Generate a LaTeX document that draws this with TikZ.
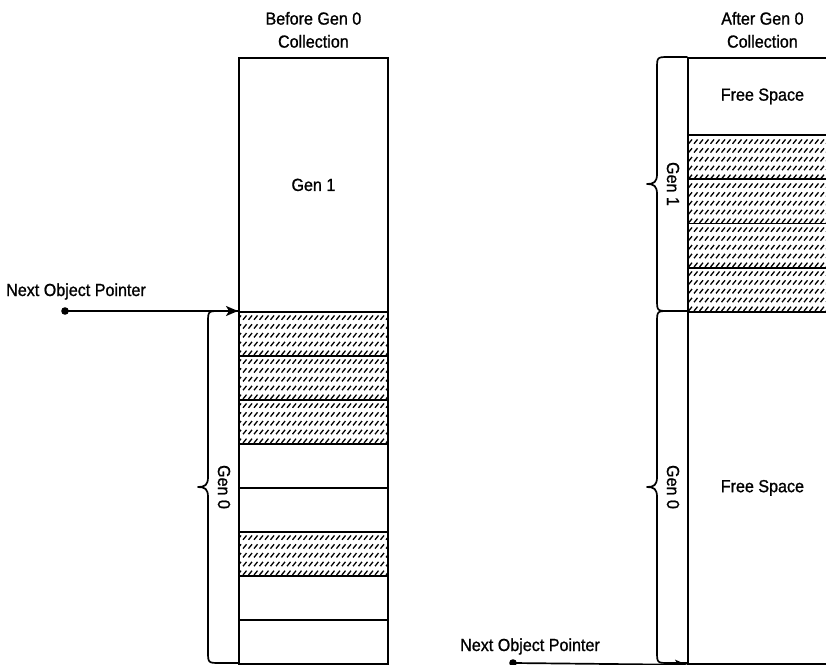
\documentclass[tikz,border=0pt]{standalone}
\usepackage{fontspec}
\setmainfont{Liberation Sans}[FakeStretch=0.92, FakeBold=1]
\usepackage{tikz}
\usetikzlibrary{arrows.meta, positioning, patterns}

% short slashes used for the live objects
\pgfdeclarepatternformonly{slashes}{\pgfqpoint{-1bp}{-1bp}}{\pgfqpoint{6.5bp}{9.8bp}}{\pgfqpoint{5.5bp}{8.8bp}}{%
  \pgfsetlinewidth{1.3bp}%
  \pgfpathmoveto{\pgfqpoint{1bp}{2bp}}%
  \pgfpathlineto{\pgfqpoint{4.5bp}{6.3bp}}%
  \pgfusepath{stroke}}

% brace on the left side of a column: column x, top y, bottom y, node name, label
\newcommand{\genbrace}[5]{%
  \pgfmathsetmacro\bmid{(#2+#3)/2}
  \draw[brace line] (#1,#2) -- (#1-18,#2) .. controls (#1-30,#2) .. (#1-30,#2+12)
    -- (#1-30,\bmid-10) .. controls (#1-30,\bmid-2) and (#1-33,\bmid) .. (#1-40,\bmid)
    .. controls (#1-33,\bmid) and (#1-30,\bmid+2) .. (#1-30,\bmid+10)
    -- (#1-30,#3-12) .. controls (#1-30,#3) .. (#1-18,#3) -- (#1,#3);
  \node[rotate=-90] (#4) at (#1-14,\bmid) {#5};
}

\begin{document}
\begin{tikzpicture}[
  x=1bp, y=-1bp,
  font=\fontsize{17.5bp}{23bp}\selectfont,
  cell/.style={draw, line width=1.8bp, minimum width=149bp, minimum height=44bp,
    inner sep=0pt, anchor=north west},
  used/.style={cell, pattern=slashes},
  brace line/.style={line width=1.7bp, line cap=round, line join=round},
  title/.style={align=center, inner sep=0pt},
  pointer/.style={line width=1.7bp, -{Stealth[length=12bp, width=10bp, inset=3bp]}}
]
  \useasboundingbox (0,0) rectangle (826,665);
  \clip (0,0) rectangle (826,665);

  % before the collection
  \node[cell, minimum height=254bp] (gen1) at (238,57) {Gen 1};
  \foreach \i/\kind in {0/used,1/used,2/used,3/cell,4/cell,5/used,6/cell,7/cell} {
    \node[\kind] (b\i) at (238,311+\i*44) {};
  }
  \node[title, above=9bp of gen1] (before) {Before Gen 0\\Collection};
  \genbrace{238}{311}{663}{lgen0}{Gen 0}

  \node[anchor=base] (lptr) at (76,296) {Next Object Pointer};
  \coordinate (ldot) at (65,311);
  \fill (ldot) circle (3.8bp);
  \draw[pointer] (ldot) -- (b0.north west);

  % after the collection
  \node[cell, minimum height=77bp] (ftop) at (687,57) {Free Space};
  \foreach \i in {0,...,3} {
    \node[used, minimum height=44.25bp] (a\i) at (687,134+\i*44.25) {};
  }
  \node[cell, minimum height=352bp] (fbot) at (687,311) {Free Space};
  \node[title, above=9bp of ftop] (after) {After Gen 0\\Collection};
  \genbrace{687}{57}{311}{rgen1}{Gen 1}
  \genbrace{687}{311}{663}{rgen0}{Gen 0}

  \node[anchor=base] (rptr) at (530,651) {Next Object Pointer};
  \coordinate (rdot) at (513,663);
  \fill (rdot) circle (3.8bp);
  \draw[pointer] (rdot) -- (fbot.south west);
\end{tikzpicture}
\end{document}
